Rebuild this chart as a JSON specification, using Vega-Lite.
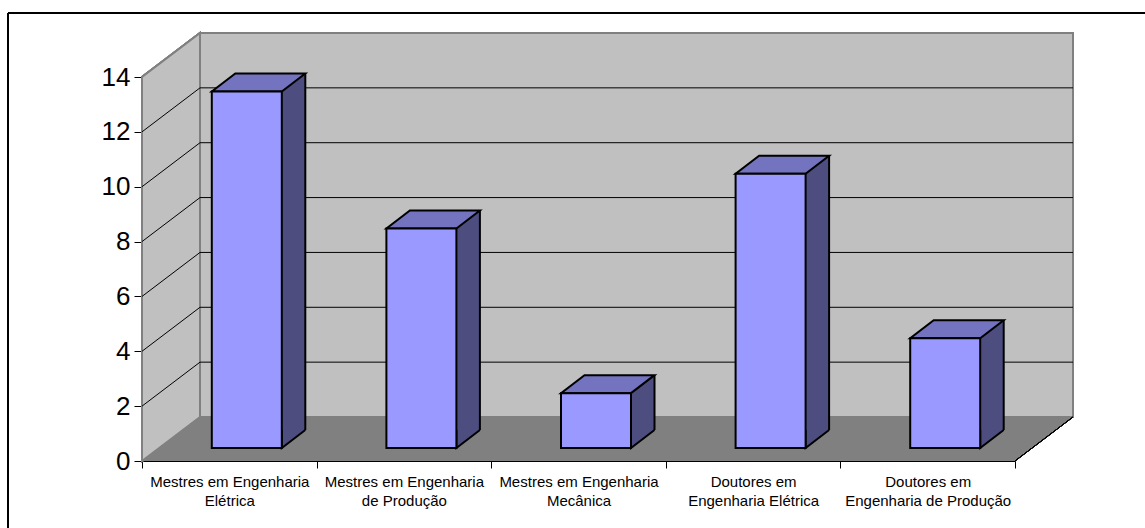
{
  "$schema": "https://vega.github.io/schema/vega-lite/v6.json",
  "width": 873,
  "height": 384,
  "autosize": "none",
  "padding": {"left": 142, "top": 77, "right": 130, "bottom": 67},
  "background": "white",
  "config": {
    "view": {"stroke": null},
    "font": "Liberation Sans",
    "axis": {"labelFont": "Liberation Sans", "labelColor": "#000000", "domainColor": "#000000", "tickColor": "#000000", "domainWidth": 1, "tickWidth": 1, "grid": false, "title": null, "zindex": 1}
  },
  "datasets": {
    "dados": [
      {"categoria": "Mestres em Engenharia\nElétrica", "quantidade": 13},
      {"categoria": "Mestres em Engenharia\nde Produção", "quantidade": 8},
      {"categoria": "Mestres em Engenharia\nMecânica", "quantidade": 2},
      {"categoria": "Doutores em\nEngenharia Elétrica", "quantidade": 10},
      {"categoria": "Doutores em\nEngenharia de Produção", "quantidade": 4}
    ],
    "grade": [
      {"valor": 2}, {"valor": 4}, {"valor": 6}, {"valor": 8}, {"valor": 10}, {"valor": 12}
    ]
  },
  "data": {"name": "dados"},
  "layer": [
    {
      "mark": {"type": "rect", "fill": "#C0C0C0", "stroke": "#808080", "strokeWidth": 2, "xOffset": 58, "x2Offset": 58, "yOffset": -44, "y2Offset": -44},
      "encoding": {
        "x": {"datum": "Mestres em Engenharia\nElétrica", "type": "nominal", "bandPosition": 0,
              "scale": {"type": "band", "domain": ["Mestres em Engenharia\nElétrica", "Mestres em Engenharia\nde Produção", "Mestres em Engenharia\nMecânica", "Doutores em\nEngenharia Elétrica", "Doutores em\nEngenharia de Produção"], "paddingInner": 0, "paddingOuter": 0},
              "axis": {"tickBand": "extent", "labelFontSize": 15, "labelPadding": 6.5, "tickSize": 7, "labelLineHeight": 19, "labelBaseline": "top", "labelAngle": 0, "labelOverlap": false, "labelLimit": 400, "labelExpr": "split(datum.label, '\\n')"}},
        "x2": {"datum": "Doutores em\nEngenharia de Produção", "bandPosition": 1},
        "y": {"datum": 0, "type": "quantitative", "scale": {"domain": [0, 14], "nice": false, "zero": true},
              "axis": {"values": [0, 2, 4, 6, 8, 10, 12, 14], "labelFontSize": 26, "tickSize": 8, "labelPadding": 4}},
        "y2": {"datum": 14}
      }
    },
    {
      "mark": {"type": "point", "shape": "M0,0L0,-384L58,-428L58,-44Z", "size": 4, "filled": true, "fill": "#C0C0C0", "stroke": "#808080", "strokeWidth": 2, "opacity": 1},
      "encoding": {
        "x": {"datum": "Mestres em Engenharia\nElétrica", "type": "nominal", "bandPosition": 0},
        "y": {"datum": 0, "type": "quantitative"}
      }
    },
    {
      "mark": {"type": "point", "shape": "M0,0L873,0L931,-44L58,-44Z", "size": 4, "filled": true, "fill": "#808080", "strokeWidth": 0, "opacity": 1},
      "encoding": {
        "x": {"datum": "Mestres em Engenharia\nElétrica", "type": "nominal", "bandPosition": 0},
        "y": {"datum": 0, "type": "quantitative"}
      }
    },
    {
      "mark": {"type": "point", "shape": "M0,0L58,-44", "size": 4, "filled": false, "stroke": "#000000", "strokeWidth": 1, "opacity": 1},
      "encoding": {
        "x": {"datum": "Doutores em\nEngenharia de Produção", "type": "nominal", "bandPosition": 1},
        "y": {"datum": 0, "type": "quantitative"}
      }
    },
    {
      "data": {"name": "grade"},
      "mark": {"type": "point", "shape": "M0,0L58,-44", "size": 4, "filled": false, "stroke": "#000000", "strokeWidth": 1, "opacity": 1},
      "encoding": {
        "x": {"datum": "Mestres em Engenharia\nElétrica", "type": "nominal", "bandPosition": 0},
        "y": {"field": "valor", "type": "quantitative"}
      }
    },
    {
      "data": {"name": "grade"},
      "mark": {"type": "rule", "stroke": "#000000", "strokeWidth": 1, "xOffset": 58, "x2Offset": 58, "yOffset": -44},
      "encoding": {
        "x": {"datum": "Mestres em Engenharia\nElétrica", "type": "nominal", "bandPosition": 0},
        "x2": {"datum": "Doutores em\nEngenharia de Produção", "bandPosition": 1},
        "y": {"field": "valor", "type": "quantitative"}
      }
    },
    {
      "mark": {"type": "bar", "width": 23.5, "fill": "#4D4D80", "strokeWidth": 0, "xOffset": 64.25, "yOffset": -31, "y2Offset": -31},
      "encoding": {
        "x": {"field": "categoria", "type": "nominal", "sort": null},
        "y": {"field": "quantidade", "type": "quantitative"},
        "y2": {"datum": 0}
      }
    },
    {
      "mark": {"type": "point", "shape": "M0,-18L0,0L23.5,-18", "size": 4, "filled": true, "fill": "#4D4D80", "stroke": "#000000", "strokeWidth": 2, "strokeJoin": "miter", "opacity": 1, "xOffset": 52.5, "yOffset": -13},
      "encoding": {
        "x": {"field": "categoria", "type": "nominal", "sort": null},
        "y": {"datum": 0, "type": "quantitative"}
      }
    },
    {
      "mark": {"type": "rule", "stroke": "#000000", "strokeWidth": 2, "xOffset": 76, "yOffset": -31, "y2Offset": -31},
      "encoding": {
        "x": {"field": "categoria", "type": "nominal", "sort": null},
        "y": {"field": "quantidade", "type": "quantitative"},
        "y2": {"datum": 0}
      }
    },
    {
      "mark": {"type": "point", "shape": "M0,0L70,0L93.5,-18L23.5,-18Z", "size": 4, "filled": true, "fill": "#7373BF", "stroke": "#000000", "strokeWidth": 2, "strokeJoin": "miter", "opacity": 1, "xOffset": -17.5, "yOffset": -13},
      "encoding": {
        "x": {"field": "categoria", "type": "nominal", "sort": null},
        "y": {"field": "quantidade", "type": "quantitative"}
      }
    },
    {
      "mark": {"type": "bar", "width": 70, "fill": "#9999FF", "stroke": "#000000", "strokeWidth": 2, "strokeJoin": "miter", "xOffset": 17.5, "yOffset": -13, "y2Offset": -13},
      "encoding": {
        "x": {"field": "categoria", "type": "nominal", "sort": null},
        "y": {"field": "quantidade", "type": "quantitative"},
        "y2": {"datum": 0}
      }
    },
    {
      "mark": {"type": "rule", "stroke": "#000000", "strokeWidth": 1.5, "xOffset": -134, "x2Offset": 140, "yOffset": -64},
      "encoding": {
        "x": {"datum": "Mestres em Engenharia\nElétrica", "type": "nominal", "bandPosition": 0},
        "x2": {"datum": "Doutores em\nEngenharia de Produção", "bandPosition": 1},
        "y": {"datum": 14, "type": "quantitative"}
      }
    },
    {
      "mark": {"type": "rule", "stroke": "#000000", "strokeWidth": 1.5, "xOffset": -134, "yOffset": -64, "y2Offset": 80},
      "encoding": {
        "x": {"datum": "Mestres em Engenharia\nElétrica", "type": "nominal", "bandPosition": 0},
        "y": {"datum": 14, "type": "quantitative"},
        "y2": {"datum": 0}
      }
    }
  ]
}
